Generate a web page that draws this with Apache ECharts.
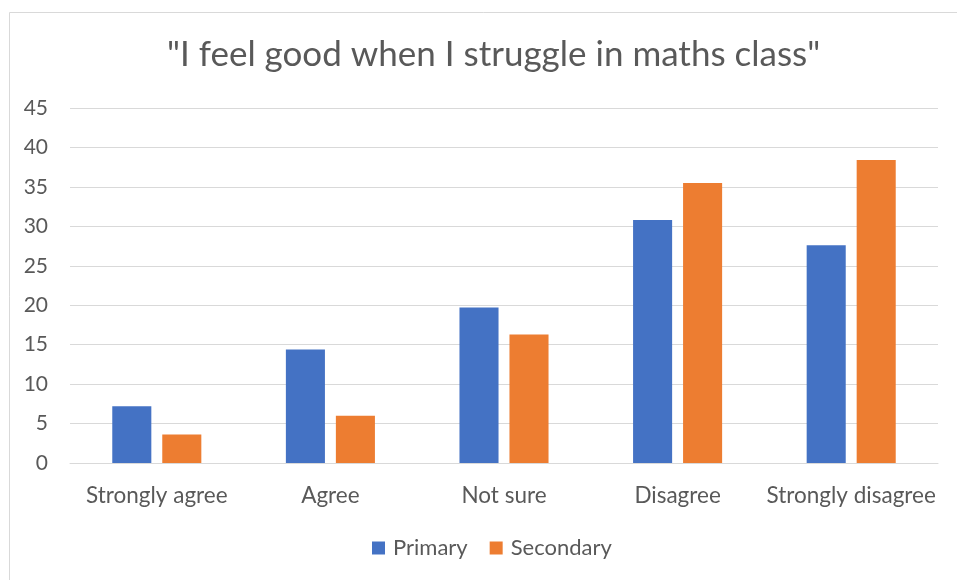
<!DOCTYPE html>
<html><head><meta charset="utf-8">
<script src="https://cdn.jsdelivr.net/npm/echarts@6/dist/echarts.min.js"></script>
<style>html,body{margin:0;padding:0;background:#fff}#c{width:957px;height:580px}</style>
</head><body><div id="c"></div>
<script>
const categories = ["Strongly agree", "Agree", "Not sure", "Disagree", "Strongly disagree"];
const primary = [7.2, 14.4, 19.7, 30.8, 27.6];
const secondary = [3.6, 6.0, 16.3, 35.5, 38.4];
const seriesNames = ["Primary", "Secondary"];
const titleText = '"I feel good when I struggle in maths class"';

const font = "Lato";
const chart = echarts.init(document.getElementById('c'), null, {renderer: 'canvas'});
chart.setOption({
  animation: false,
  backgroundColor: '#fff',
  graphic: [{type: 'rect', left: 7, top: 10, shape: {width: 960, height: 575}, style: {fill: 'none', stroke: '#d9d9d9', lineWidth: 1}, silent: true}],
  title: {text: titleText, left: 162, top: 32, textStyle: {fontFamily: font, fontSize: 35, fontWeight: 'normal', color: '#595959'}},
  legend: {data: seriesNames, bottom: 16, left: 367, itemWidth: 13, itemHeight: 13, itemGap: 22, icon: 'rect',
    textStyle: {fontFamily: font, fontSize: 22, color: '#595959', padding: [0, 0, 0, 3]}},
  grid: {left: 70, right: 19, top: 108, bottom: 117, containLabel: false},
  xAxis: {type: 'category', data: categories,
    axisLine: {lineStyle: {color: '#d9d9d9', width: 1}}, axisTick: {show: false},
    axisLabel: {interval: 0, fontFamily: font, fontSize: 22.5, color: '#595959', margin: 21}},
  yAxis: {type: 'value', min: 0, max: 45, interval: 5,
    axisLine: {show: false}, axisTick: {show: false},
    splitLine: {lineStyle: {color: '#d9d9d9', width: 1}},
    axisLabel: {fontFamily: font, fontSize: 21, color: '#595959', margin: 22}},
  series: [
    {name: seriesNames[0], type: 'bar', data: primary, barWidth: '22.5%', barGap: '28%', itemStyle: {color: '#4472c4'}},
    {name: seriesNames[1], type: 'bar', data: secondary, barWidth: '22.5%', barGap: '28%', itemStyle: {color: '#ed7d31'}}
  ]
});
</script></body></html>
